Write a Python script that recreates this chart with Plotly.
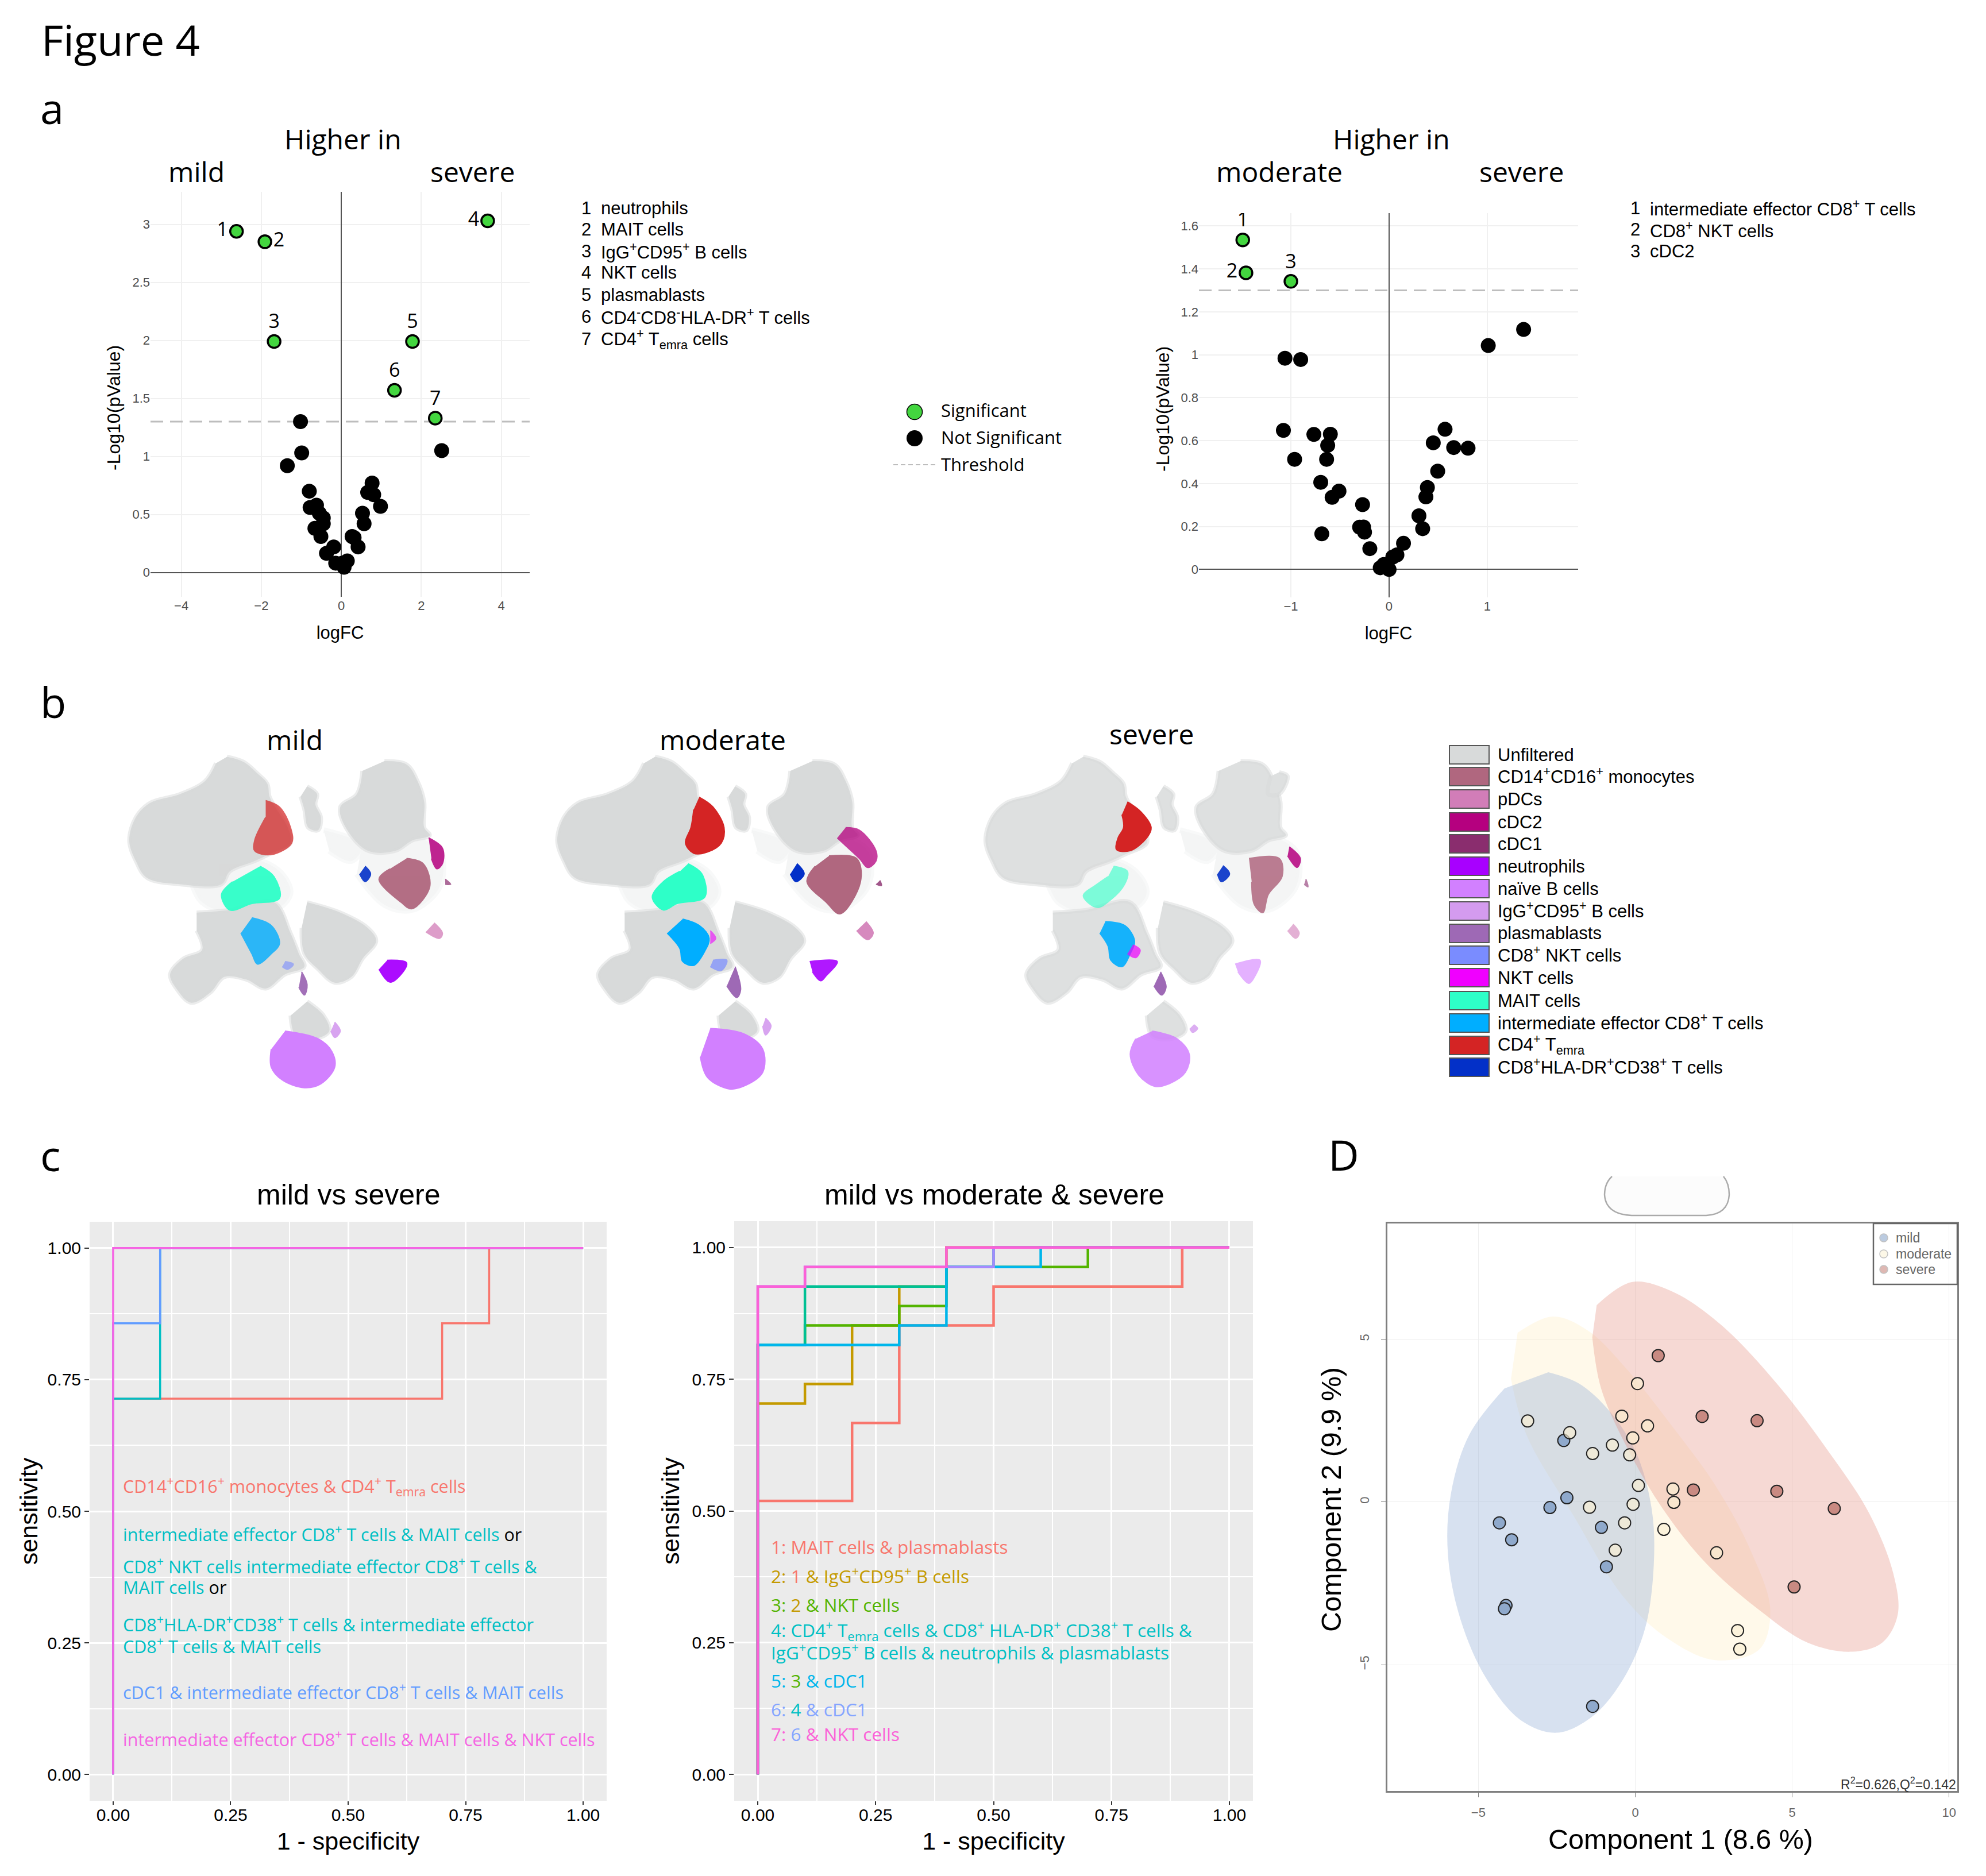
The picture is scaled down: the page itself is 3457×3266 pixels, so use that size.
import plotly.graph_objects as go

W, H = 3457, 3266
SANS = "Liberation Sans"
HUM = "Open Sans"

# ---------- panel a data
a1_sig_x = [-2.62, -1.91, -1.68, 3.66, 1.78, 1.33, 2.35]
a1_sig_y = [2.94, 2.85, 1.99, 3.03, 1.99, 1.57, 1.33]
a1_sig_lab = ["1", "2", "3", "4", "5", "6", "7"]
a1_sig_pos = ["middle left", "middle right", "top center", "middle left", "top center", "top center", "top center"]
a1_ns_x = [-1.02, -0.99, -1.35, 2.51, -0.80, -0.62, -0.78, -0.55, -0.45, -0.45, -0.66, -0.51, -0.19, -0.37, -0.14,
           0.02, 0.15, 0.07, 0.27, 0.32, 0.42, 0.57, 0.53, 0.77, 0.66, 0.81, 0.98]
a1_ns_y = [1.30, 1.03, 0.92, 1.05, 0.70, 0.58, 0.56, 0.51, 0.47, 0.42, 0.38, 0.31, 0.22, 0.165, 0.08,
           0.08, 0.10, 0.045, 0.31, 0.30, 0.22, 0.42, 0.51, 0.77, 0.69, 0.67, 0.57]
a2_sig_x = [-1.49, -1.457, -1.0]
a2_sig_y = [1.535, 1.382, 1.342]
a2_sig_lab = ["1", "2", "3"]
a2_sig_pos = ["top center", "middle left", "top center"]
a2_ns_x = [-1.06, -0.90, 1.37, 1.01, -1.076, -0.766, -0.598, -0.625, -0.636, -0.962, -0.696, -0.51, -0.58, -0.27,
           -0.30, -0.26, -0.25, -0.685, -0.196, -0.09, -0.054, 0.0, 0.038, 0.08, 0.147, 0.342, 0.304, 0.375, 0.39,
           0.495, 0.45, 0.57, 0.658, 0.804]
a2_ns_y = [0.984, 0.978, 1.118, 1.043, 0.648, 0.629, 0.63, 0.578, 0.513, 0.513, 0.406, 0.365, 0.336, 0.302,
           0.197, 0.198, 0.174, 0.166, 0.097, 0.008, 0.023, 0.0, 0.058, 0.068, 0.122, 0.19, 0.25, 0.338, 0.382,
           0.458, 0.59, 0.653, 0.568, 0.565]
threshold = 1.30
a1_names = ["neutrophils", "MAIT cells", "IgG<sup>+</sup>CD95<sup>+</sup> B cells", "NKT cells", "plasmablasts",
            "CD4<sup>-</sup>CD8<sup>-</sup>HLA-DR<sup>+</sup> T cells", "CD4<sup>+</sup> T<sub>emra</sub> cells"]
a2_names = ["intermediate effector CD8<sup>+</sup> T cells", "CD8<sup>+</sup> NKT cells", "cDC2"]

# ---------- panel b data (outlines)
grey_blobs = [
    [(255,195),(285,215),(310,260),(328,300),(332,350),(345,400),(365,470),(370,530),(330,575),(305,600),(260,640),(245,690),(170,690),(110,665),(90,600),(78,520),(90,430),(115,375),(170,340),(215,290),(235,220)],
    [(400,310),(418,340),(415,380),(425,430),(420,480),(402,470),(395,400),(388,350)],
    [(540,212),(580,225),(600,290),(612,370),(612,470),(622,500),(590,520),(560,560),(510,560),(470,470),(460,390),(490,340),(500,250)],
    [(200,800),(260,790),(340,760),(370,880),(385,960),(395,1010),(360,1040),(325,1095),(290,1060),(250,1050),(225,1110),(190,1150),(165,1100),(152,1040),(175,980),(210,945),(200,870)],
    [(400,760),(460,800),(510,860),(525,910),(500,980),(480,1050),(450,1072),(420,1020),(395,960),(390,860)],
    [(400,1145),(430,1200),(440,1260),(415,1290),(380,1280),(370,1200)],
]
halo_blobs = [
    [(200,590),(300,590),(350,640),(370,720),(350,780),(260,800),(210,760),(190,680)],
    [(500,530),(580,500),(640,560),(640,700),(590,790),(540,770),(490,650)],
    [(430,480),(500,540),(480,600),(440,560)],
]
mild_clusters = {
    "CD4T": ([(325,365),(350,390),(370,470),(372,530),(335,575),(305,560),(305,520),(325,430)], 0.72),
    "MAIT": ([(315,620),(340,660),(350,745),(300,765),(260,790),(245,730),(265,680)], 0.95),
    "IE": ([(300,820),(335,850),(350,920),(335,960),(310,1000),(300,960),(280,880)], 0.8),
    "NKTCD8": ([(360,990),(375,1000),(365,1020),(355,1010)], 0.6),
    "MONO": ([(580,590),(610,610),(622,700),(590,785),(570,760),(530,670),(550,630)], 0.95),
    "HLA": ([(505,620),(515,650),(505,680),(495,650)], 0.9),
    "CDC2": ([(620,510),(645,550),(645,610),(635,630),(625,590)], 0.85),
    "CDC1": ([(650,670),(660,690),(650,690)], 0.7),
    "PDC": ([(630,840),(645,880),(640,900),(615,875)], 0.75),
    "NEUT": ([(545,985),(580,995),(570,1040),(550,1070),(530,1020)], 0.95),
    "PB": ([(390,1030),(400,1080),(395,1120),(385,1090)], 0.95),
    "NAIVE": ([(360,1260),(420,1290),(445,1340),(450,1400),(425,1465),(395,1480),(355,1450),(335,1400),(335,1330)], 1),
    "IGG": ([(450,1225),(460,1260),(450,1285),(443,1260)], 0.9),
}
moderate_clusters = {
    "CD4T": ([(335,352),(360,390),(380,470),(375,530),(350,565),(325,570),(310,530),(320,470),(325,400)], 1),
    "MAIT": ([(315,610),(340,650),(345,740),(295,765),(270,790),(250,740),(270,680),(300,640)], 1),
    "IE": ([(305,825),(335,850),(353,900),(345,950),(325,1005),(305,990),(300,940),(277,880)], 1),
    "NKT": ([(355,870),(365,900),(355,920)], 0.6),
    "NKTCD8": ([(360,985),(385,985),(375,1025),(355,1010)], 0.7),
    "MONO": ([(570,580),(620,590),(627,680),(590,805),(565,760),(530,680),(545,620)], 1),
    "HLA": ([(512,610),(525,650),(510,680),(500,650)], 1),
    "CDC2": ([(600,470),(625,480),(655,560),(655,600),(640,625),(625,590),(600,540),(585,510)], 0.75),
    "CDC1": ([(662,675),(665,695),(655,690)], 0.8),
    "PDC": ([(637,835),(650,880),(640,905),(620,870)], 0.9),
    "NEUT": ([(535,990),(585,990),(565,1045),(555,1065),(540,1030)], 0.9),
    "PB": ([(400,1010),(410,1100),(403,1130),(385,1085)], 1),
    "NAIVE": ([(355,1250),(415,1270),(450,1330),(450,1420),(420,1470),(390,1485),(350,1440),(337,1360)], 1),
    "IGG": ([(455,1210),(465,1240),(455,1275),(450,1240)], 0.9),
}
severe_clusters = {
    "CD4T": ([(325,370),(350,410),(368,470),(360,510),(330,560),(305,555),(308,510),(318,470),(315,420)], 1),
    "MAIT": ([(300,620),(325,640),(320,690),(295,750),(270,780),(245,735),(270,690),(290,660)], 0.6),
    "IE": ([(285,835),(320,850),(338,910),(330,960),(315,1010),(295,985),(290,930),(275,880)], 0.9),
    "NKT": ([(335,925),(348,945),(340,975),(325,960)], 0.7),
    "MONO": ([(545,590),(600,590),(605,660),(580,730),(570,800),(555,770),(550,680)], 0.85),
    "HLA": ([(498,618),(510,650),(495,680),(488,650)], 0.9),
    "CDC2": ([(618,545),(638,590),(632,625),(615,580)], 0.85),
    "CDC1": ([(648,670),(652,700),(645,690)], 0.6),
    "PDC": ([(625,845),(636,880),(630,900),(615,870)], 0.6),
    "NEUT": ([(520,1000),(565,985),(555,1050),(545,1075),(525,1030)], 0.3),
    "PB": ([(385,1030),(395,1090),(387,1120),(373,1085)], 1),
    "NAIVE": ([(370,1260),(415,1290),(437,1350),(430,1420),(400,1465),(375,1475),(345,1430),(330,1350),(340,1290)], 0.85),
    "IGG": ([(445,1235),(452,1250),(443,1265),(438,1250)], 0.8),
}
severe_extra_grey = [[(610,255),(625,270),(610,340),(590,340),(595,270)]]
cluster_colors = {"CD4T": "#D42424", "MAIT": "#2EFFC8", "IE": "#00AEFF", "NKTCD8": "#7A8CFF", "NKT": "#F000FF",
                  "MONO": "#B0677F", "HLA": "#0330C8", "CDC2": "#B5007F", "CDC1": "#8A2D6E", "PDC": "#D27DB8",
                  "NEUT": "#A800FF", "PB": "#9E69B5", "NAIVE": "#D280FF", "IGG": "#D49BEF"}
legend_names = ["Unfiltered", "CD14<sup>+</sup>CD16<sup>+</sup> monocytes", "pDCs", "cDC2", "cDC1", "neutrophils",
                "naïve B cells", "IgG<sup>+</sup>CD95<sup>+</sup> B cells", "plasmablasts", "CD8<sup>+</sup> NKT cells",
                "NKT cells", "MAIT cells", "intermediate effector CD8<sup>+</sup> T cells", "CD4<sup>+</sup> T<sub>emra</sub>",
                "CD8<sup>+</sup>HLA-DR<sup>+</sup>CD38<sup>+</sup> T cells"]
legend_colors = ["#D8DADA", "#B0677F", "#D27DB8", "#B5007F", "#8A2D6E", "#A800FF", "#D280FF", "#D49BEF", "#9E69B5",
                 "#7A8CFF", "#F000FF", "#2EFFC8", "#00AEFF", "#D42424", "#0330C8"]
legend_rows = [1314, 1352, 1391, 1431, 1469, 1508, 1547, 1586, 1625, 1663, 1702, 1742, 1781, 1820, 1858]

# ---------- panel c data
c1_curves = [
    ("#F8766D", [0, 0, 0.7, 0.7, 0.8, 0.8, 1], [0, 0.714, 0.714, 0.857, 0.857, 1, 1]),
    ("#00BFC4", [0, 0, 0.1, 0.1, 1], [0, 0.714, 0.714, 1, 1]),
    ("#619CFF", [0, 0, 0.1, 0.1, 1], [0, 0.857, 0.857, 1, 1]),
    ("#F564E3", [0, 0, 1], [0, 1, 1]),
]
c2_curves = [
    ("#F8766D", [0, 0, .2, .2, .3, .3, .5, .5, .9, .9, 1], [0, .519, .519, .667, .667, .852, .852, .926, .926, 1, 1]),
    ("#C49A00", [0, 0, .1, .1, .2, .2, .3, .3, .4, .4, 1], [0, .704, .704, .741, .741, .852, .852, .926, .926, 1, 1]),
    ("#53B400", [0, 0, .1, .1, .3, .3, .4, .4, .7, .7, 1], [0, .815, .815, .852, .852, .889, .889, .963, .963, 1, 1]),
    ("#00C094", [0, 0, .1, .1, .4, .4, .5, .5, 1], [0, .815, .815, .926, .926, .963, .963, 1, 1]),
    ("#00B6EB", [0, 0, .3, .3, .4, .4, .6, .6, 1], [0, .815, .815, .852, .852, .963, .963, 1, 1]),
    ("#A58AFF", [0, 0, .1, .1, .5, .5, 1], [0, .926, .926, .963, .963, 1, 1]),
    ("#FB61D7", [0, 0, .1, .1, .4, .4, 1], [0, .926, .926, .963, .963, 1, 1]),
]
CS, CT, CB, CP = "#F8766D", "#00BFC4", "#619CFF", "#F564E3"
c1_notes = [
    (2587, CS, "CD14<sup>+</sup>CD16<sup>+</sup> monocytes &amp; CD4<sup>+</sup> T<sub>emra</sub> cells"),
    (2669, CT, 'intermediate effector CD8<sup>+</sup> T cells &amp; MAIT cells <span style="color:black">or</span>'),
    (2725, CT, "CD8<sup>+</sup> NKT cells intermediate effector CD8<sup>+</sup> T cells &amp;"),
    (2763, CT, 'MAIT cells <span style="color:black">or</span>'),
    (2826, CT, "CD8<sup>+</sup>HLA-DR<sup>+</sup>CD38<sup>+</sup> T cells &amp; intermediate effector"),
    (2864, CT, "CD8<sup>+</sup> T cells &amp; MAIT cells"),
    (2944, CB, "cDC1 &amp; intermediate effector CD8<sup>+</sup> T cells &amp; MAIT cells"),
    (3026, CP, "intermediate effector CD8<sup>+</sup> T cells &amp; MAIT cells &amp; NKT cells"),
]
def tint(c, t):
    return f'<span style="color:{c}">{t}</span>'
c2_notes = [
    (2692, "#F8766D", "1: MAIT cells &amp; plasmablasts"),
    (2742, "#C49A00", "2: " + tint("#F8766D", "1") + " &amp; IgG<sup>+</sup>CD95<sup>+</sup> B cells"),
    (2793, "#53B400", "3: " + tint("#C49A00", "2") + " &amp; NKT cells"),
    (2838, "#00C0C4", "4: CD4<sup>+</sup> T<sub>emra</sub> cells &amp; CD8<sup>+</sup> HLA-DR<sup>+</sup> CD38<sup>+</sup> T cells &amp;"),
    (2875, "#00C0C4", "IgG<sup>+</sup>CD95<sup>+</sup> B cells &amp; neutrophils &amp; plasmablasts"),
    (2925, "#00B6EB", "5: " + tint("#53B400", "3") + " &amp; cDC1"),
    (2975, "#85A5FF", "6: " + tint("#00C0C4", "4") + " &amp; cDC1"),
    (3018, "#FB61D7", "7: " + tint("#85A5FF", "6") + " &amp; NKT cells"),
]

# ---------- panel D data
mild_x = [-2.28, -2.18, -2.72, -4.33, -3.94, -1.08, -0.92, -4.12, -4.17, -1.36]
mild_y = [1.89, 0.13, -0.17, -0.64, -1.16, -0.78, -1.99, -3.18, -3.28, -6.28]
mod_x = [-3.43, -2.09, -1.36, -0.73, -0.18, -0.08, 0.39, -0.43, 0.07, 0.10, -0.07, -1.46, -0.34, -0.64, 0.91, 1.20, 1.23, 2.59, 3.26, 3.33]
mod_y = [2.49, 2.13, 1.49, 1.75, 1.45, 1.97, 2.34, 2.64, 3.64, 0.51, -0.07, -0.16, -0.64, -1.48, -0.84, 0.40, -0.01, -1.56, -3.95, -4.52]
sev_x = [0.73, 2.13, 3.88, 1.85, 4.51, 6.34, 5.06]
sev_y = [4.50, 2.63, 2.50, 0.37, 0.33, -0.20, -2.61]
ell_mild = [(-2.77,3.99),(-1.79,3.64),(-0.81,2.78),(0.03,1.51),(0.52,-0.20),(0.59,-1.90),(0.31,-3.89),(-0.39,-5.45),(-1.37,-6.59),(-2.49,-7.09),(-3.61,-6.73),(-4.73,-5.45),(-5.57,-3.61),(-5.97,-1.62),(-5.88,0.23),(-5.29,2.07),(-4.17,3.49)]
ell_sev = [(-1.23,6.05),(-0.11,6.76),(1.15,6.48),(2.69,5.48),(4.51,3.64),(6.19,1.51),(7.45,-0.34),(8.22,-2.19),(8.36,-3.47),(7.87,-4.32),(6.89,-4.60),(5.49,-4.32),(3.95,-3.32),(2.27,-1.90),(0.87,-0.20),(-0.25,1.65),(-1.09,3.49),(-1.37,5.06)]
ell_mod = [(-3.75,5.20),(-2.63,5.70),(-1.51,5.27),(-0.25,4.06),(1.15,2.36),(2.55,0.51),(3.67,-1.48),(4.30,-3.32),(3.95,-4.53),(2.55,-4.86),(1.01,-4.18),(-0.39,-2.90),(-1.93,-0.48),(-3.47,2.07),(-3.96,3.78)]


def fx(p): return p / W
def fy(p): return 1 - p / H
def dom_x(a, b): return [fx(a), fx(b)]
def dom_y(top, bottom): return [fy(bottom), fy(top)]

annots, shapes = [], []
def note(x, y, text, size=31, color="black", anchor="left", angle=0, family=SANS):
    annots.append(dict(x=fx(x), y=fy(y), xref="paper", yref="paper", text=text, showarrow=False, xanchor=anchor,
                       yanchor="middle", textangle=angle, font=dict(size=size, color=color, family=family)))

fig = go.Figure()
layout = {}

def add_axes(n, xdom, ydom, xcfg, ycfg):
    s = "" if n == 1 else str(n)
    layout["xaxis" + s] = dict(domain=xdom, anchor="y" + s, **xcfg)
    layout["yaxis" + s] = dict(domain=ydom, anchor="x" + s, **ycfg)
    return "x" + s, "y" + s

# ---- a: volcano plots
def volcano(n, xdom, ydom, xr, yr, xt, yt, ytxt, sx, sy, lab, pos, nx, ny):
    tick = dict(size=22, color="#4d4d4d", family=SANS)
    xa, ya = add_axes(n, xdom, ydom,
        dict(range=xr, tickvals=xt, showgrid=True, gridcolor="#F0F0F0", gridwidth=2, zeroline=True, zerolinecolor="#555555",
             zerolinewidth=2, tickfont=tick, ticks="", ticklen=0, title=dict(text="logFC", font=dict(size=31, family=SANS, color="black"), standoff=24)),
        dict(range=yr, tickvals=yt, ticktext=ytxt, showgrid=True, gridcolor="#F0F0F0", gridwidth=2, zeroline=True, zerolinecolor="#555555",
             zerolinewidth=2, tickfont=tick, ticks="", ticklen=0))
    fig.add_trace(go.Scatter(x=xr, y=[threshold, threshold], mode="lines", xaxis=xa, yaxis=ya, showlegend=False,
                             line=dict(color="#BDBDBD", width=3, dash="22px,12px")))
    fig.add_trace(go.Scatter(x=nx, y=ny, mode="markers", xaxis=xa, yaxis=ya, showlegend=False,
                             marker=dict(size=26, color="black")))
    fig.add_trace(go.Scatter(x=sx, y=sy, mode="markers+text", text=lab, textposition=pos, xaxis=xa, yaxis=ya, showlegend=False,
                             textfont=dict(size=34, color="black", family=HUM),
                             marker=dict(size=22, color="#43D63F", line=dict(color="black", width=3.5))))

volcano(1, dom_x(262, 922), dom_y(334, 1039), [-4.77, 4.71], [-0.21, 3.28], [-4, -2, 0, 2, 4],
        [0, .5, 1, 1.5, 2, 2.5, 3], ["0", "0.5", "1", "1.5", "2", "2.5", "3"], a1_sig_x, a1_sig_y, a1_sig_lab, a1_sig_pos, a1_ns_x, a1_ns_y)
volcano(2, dom_x(2087, 2747), dom_y(371, 1040), [-1.936, 1.925], [-0.13, 1.66], [-1, 0, 1],
        [0, .2, .4, .6, .8, 1, 1.2, 1.4, 1.6], ["0", "0.2", "0.4", "0.6", "0.8", "1", "1.2", "1.4", "1.6"], a2_sig_x, a2_sig_y, a2_sig_lab, a2_sig_pos, a2_ns_x, a2_ns_y)
note(198, 710, "-Log10(pValue)", 32, anchor="center", angle=-90)
note(2024, 712, "-Log10(pValue)", 32, anchor="center", angle=-90)

note(597, 242, "Higher in", 48, family=HUM, anchor="center")
note(342, 298, "mild", 48, family=HUM, anchor="center")
note(822, 298, "severe", 48, family=HUM, anchor="center")
note(2422, 242, "Higher in", 48, family=HUM, anchor="center")
note(2227, 298, "moderate", 48, family=HUM, anchor="center")
note(2648, 298, "severe", 48, family=HUM, anchor="center")
for i, (name, y) in enumerate(zip(a1_names, [362, 400, 437, 475, 514, 551, 590])):
    note(1010, y, str(i + 1))
    note(1044, y, name)
for i, (name, y) in enumerate(zip(a2_names, [362, 400, 437])):
    note(2836, y, str(i + 1))
    note(2870, y, name)

note(70, 69, "Figure 4", 74, family=HUM)
note(68, 188, "a", 74, family=HUM)
note(68, 1221, "b", 74, family=HUM)
note(68, 2010, "c", 74, family=HUM)
note(2310, 2009, "D", 74, family=HUM)

# ---- b: UMAP panels
def umap(n, left, clusters, dx, grey="#D8DADA", extra=()):
    xa, ya = add_axes(n, dom_x(left, left + 700 / 1.04), dom_y(1230 + 150 / 2.23, 1230 + 1500 / 2.23),
                      dict(range=[0, 700], visible=False), dict(range=[1500, 150], visible=False))
    for blob in halo_blobs:
        fig.add_trace(go.Scatter(x=[p[0] + dx for p in blob], y=[p[1] for p in blob], mode="lines", fill="toself", xaxis=xa, yaxis=ya,
                                 fillcolor="#F4F5F5", line=dict(color="rgba(244,245,245,0.6)", width=10, shape="spline"), showlegend=False, hoverinfo="skip"))
    for blob in grey_blobs + list(extra):
        fig.add_trace(go.Scatter(x=[p[0] + dx for p in blob], y=[p[1] for p in blob], mode="lines", fill="toself", xaxis=xa, yaxis=ya,
                                 fillcolor=grey, line=dict(color="rgba(216,218,218,0.5)", width=7, shape="spline"), showlegend=False, hoverinfo="skip"))
    for key, (pts, op) in clusters.items():
        fig.add_trace(go.Scatter(x=[p[0] for p in pts], y=[p[1] for p in pts], mode="lines", fill="toself", xaxis=xa, yaxis=ya, opacity=op,
                                 fillcolor=cluster_colors[key], line=dict(color=cluster_colors[key], width=2, shape="spline"), showlegend=False, hoverinfo="skip"))

umap(3, 150, mild_clusters, 0)
umap(4, 895, moderate_clusters, 0)
umap(5, 1650, severe_clusters, -10, "#DEE0E0", severe_extra_grey)
note(513, 1287, "mild", 48, family=HUM, anchor="center")
note(1258, 1287, "moderate", 48, family=HUM, anchor="center")
note(2005, 1278, "severe", 48, family=HUM, anchor="center")
for name, col, y in zip(legend_names, legend_colors, legend_rows):
    shapes.append(dict(type="rect", xref="paper", yref="paper", x0=fx(2523), x1=fx(2592), y0=fy(y - 16), y1=fy(y + 16),
                       fillcolor=col, line=dict(color="#555555", width=2)))
    note(2605, y - 2 if "<su" in name else y, name)

# ---- c: ROC panels
def roc(n, xdom, ydom, curves, lw, ystand):
    tick = dict(size=30, color="black", family=SANS)
    minor = [.125, .375, .625, .875]
    xa, ya = add_axes(n, xdom, ydom,
        dict(range=[-0.05, 1.05], tickvals=[0, .25, .5, .75, 1], tickformat=".2f", showgrid=True, gridcolor="white", gridwidth=3, zeroline=False,
             ticks="outside", ticklen=6, tickcolor="#333333", tickwidth=2, tickfont=tick, ticklabelstandoff=-8,
             minor=dict(tickvals=minor, showgrid=True, gridcolor="white", gridwidth=1.5),
             title=dict(text="1 - specificity", font=dict(size=43, family=SANS, color="black"), standoff=14)),
        dict(range=[-0.05, 1.05], tickvals=[0, .25, .5, .75, 1], tickformat=".2f", showgrid=True, gridcolor="white", gridwidth=3, zeroline=False,
             ticks="outside", ticklen=8, tickcolor="#333333", tickwidth=2, tickfont=tick,
             minor=dict(tickvals=minor, showgrid=True, gridcolor="white", gridwidth=1.5),
             title=dict(text="sensitivity", font=dict(size=43, family=SANS, color="black"), standoff=ystand)))
    shapes.append(dict(type="rect", xref="paper", yref="paper", x0=xdom[0], x1=xdom[1], y0=ydom[0], y1=ydom[1],
                       fillcolor="#EBEBEB", line=dict(width=0), layer="below"))
    for col, x, y in curves:
        fig.add_trace(go.Scatter(x=x, y=y, mode="lines", xaxis=xa, yaxis=ya, showlegend=False, line=dict(color=col, width=lw)))

roc(6, dom_x(156, 1056), dom_y(2127, 3135), c1_curves, 3.5, 3)
roc(7, dom_x(1278, 2181), dom_y(2126, 3135), c2_curves, 4.5, 8)
note(607, 2080, "mild vs severe", 50, anchor="center")
note(1731, 2080, "mild vs moderate &amp; severe", 50, anchor="center")
for y, col, txt in c1_notes:
    note(212, y, txt, 30.5, col, family=HUM)
for y, col, txt in c2_notes:
    note(1340, y, txt, 31.5, col, family=HUM)

# ---- D: PLS-DA
xa, ya = add_axes(8, dom_x(2415, 3407), dom_y(2130, 3118),
    dict(range=[-7.9, 10.26], tickvals=[-5, 0, 5, 10], showgrid=True, gridcolor="#EEEEEE", zeroline=False, showline=True, mirror=True,
         linecolor="#7F7F7F", linewidth=3, ticks="outside", ticklen=8, tickcolor="#7F7F7F", tickfont=dict(size=22, color="#666666", family=SANS), ticklabelstandoff=8),
    dict(range=[-8.88, 8.56], tickvals=[-5, 0, 5], showgrid=True, gridcolor="#EEEEEE", zeroline=False, showline=True, mirror=True,
         linecolor="#7F7F7F", linewidth=3, ticks="outside", ticklen=8, tickcolor="#7F7F7F", tickangle=-90, tickfont=dict(size=22, color="#666666", family=SANS), ticklabelstandoff=12))
note(2317, 2611, "Component 2 (9.9 %)", 48.5, anchor="center", angle=-90)
note(2925, 3202, "Component 1 (8.6 %)", 48.5, anchor="center")
for pts, col in [(ell_mod, "rgba(255,236,190,0.32)"), (ell_mild, "rgba(150,175,215,0.38)"), (ell_sev, "rgba(228,140,125,0.33)")]:
    fig.add_trace(go.Scatter(x=[p[0] for p in pts], y=[p[1] for p in pts], mode="lines", fill="toself", xaxis=xa, yaxis=ya, fillcolor=col,
                             line=dict(width=0, shape="spline", color=col), showlegend=False, hoverinfo="skip"))
for x, y, col in [(mild_x, mild_y, "#8FA9CC"), (mod_x, mod_y, "rgba(250,240,210,0.65)"), (sev_x, sev_y, "#C98A82")]:
    fig.add_trace(go.Scatter(x=x, y=y, mode="markers", xaxis=xa, yaxis=ya, showlegend=False,
                             marker=dict(size=21, color=col, line=dict(color="#222222", width=2))))
note(3202, 3105, "R<sup>2</sup>=0.626,Q<sup>2</sup>=0.142", 23, "#333333")
shapes.append(dict(type="rect", xref="paper", yref="paper", x0=fx(3261), x1=fx(3407), y0=fy(2236), y1=fy(2130),
                   line=dict(color="#666666", width=2.5)))
for label, y in zip(["mild", "moderate", "severe"], [2155, 2183, 2210]):
    note(3298, y, label, 23, "#666666")
# the clipped rounded box above panel D
def P(x, y): return f"{fx(x):.5f},{fy(y):.5f}"
shapes.append(dict(type="path", xref="paper", yref="paper", fillcolor="#FCFCFC", line=dict(color="#AAAAAA", width=2.5),
                   path=f"M {P(2806,2048)} Q {P(2793,2060)} {P(2793,2080)} Q {P(2795,2114)} {P(2840,2116)} "
                        f"L {P(2970,2116)} Q {P(3008,2114)} {P(3010,2080)} Q {P(3010,2060)} {P(3000,2048)}"))

# ---- overlay axis in figure pixels for legend keys
xo, yo = add_axes(9, [0, 1], [0, 1], dict(range=[0, W], visible=False), dict(range=[H, 0], visible=False))
fig.add_trace(go.Scatter(x=[1592], y=[717], mode="markers", xaxis=xo, yaxis=yo, showlegend=False,
                         marker=dict(size=27, color="#43D63F", line=dict(color="black", width=1.5))))
fig.add_trace(go.Scatter(x=[1592], y=[763], mode="markers", xaxis=xo, yaxis=yo, showlegend=False, marker=dict(size=28, color="black")))
fig.add_trace(go.Scatter(x=[1555, 1632], y=[809, 809], mode="lines", xaxis=xo, yaxis=yo, showlegend=False,
                         line=dict(color="#BDBDBD", width=2, dash="8px,5px")))
for label, y in zip(["Significant", "Not Significant", "Threshold"], [714, 761, 808]):
    note(1636, y, label, 31, family=HUM)
for col, y in zip(["#8FA9CC", "#FBF3D8", "#C98A82"], [2155, 2183, 2210]):
    fig.add_trace(go.Scatter(x=[3279], y=[y], mode="markers", xaxis=xo, yaxis=yo, showlegend=False,
                             marker=dict(size=14, color=col, opacity=0.6, line=dict(color="#999999", width=1.5))))

fig.update_layout(width=W, height=H, margin=dict(l=0, r=0, t=0, b=0), paper_bgcolor="white", plot_bgcolor="rgba(0,0,0,0)",
                  showlegend=False, annotations=annots, shapes=shapes, font=dict(family=SANS), **layout)
fig.write_html("out.html", config={"displayModeBar": False}, post_script="document.body.style.margin='0';")
